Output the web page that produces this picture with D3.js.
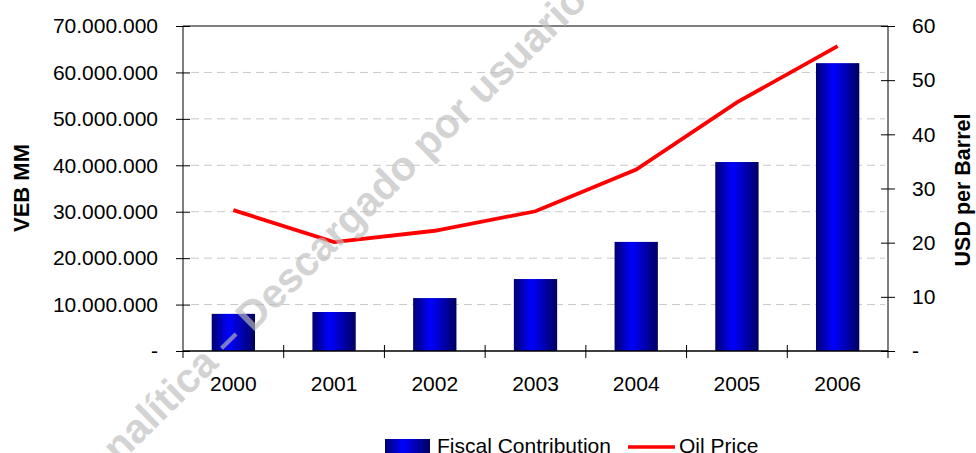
<!DOCTYPE html>
<html>
<head>
<meta charset="utf-8">
<script src="https://cdn.jsdelivr.net/npm/d3@7"></script>
<style>
  body { margin: 0; background: #fff; }
  svg { display: block; font-family: "Liberation Sans", Arial, sans-serif; }
</style>
</head>
<body>
<svg id="chart" width="976" height="453"></svg>
<script>
const years = ["2000", "2001", "2002", "2003", "2004", "2005", "2006"];
const fiscal = [8000000, 8400000, 11400000, 15500000, 23500000, 40700000, 62000000];
const oilPrice = [26.0, 20.1, 22.2, 25.8, 33.5, 45.9, 56.3];
const leftTicks = [0, 10000000, 20000000, 30000000, 40000000, 50000000, 60000000, 70000000];
const rightTicks = [0, 10, 20, 30, 40, 50, 60];

const svg = d3.select("#chart");
const plotLeft = 183, plotRight = 888, plotTop = 26, plotBottom = 351;

const x = d3.scaleBand().domain(years).range([plotLeft, plotRight]);
const yL = d3.scaleLinear().domain([0, 70000000]).range([plotBottom, plotTop]);
const yR = d3.scaleLinear().domain([0, 60]).range([plotBottom, plotTop]);

const loc = d3.formatLocale({ decimal: ",", thousands: ".", grouping: [3], currency: ["", ""] });
const fmt = loc.format(",d");

// gradient for bars
const defs = svg.append("defs");
const grad = defs.append("linearGradient").attr("id", "barGrad")
  .attr("x1", "0%").attr("x2", "100%").attr("y1", "0%").attr("y2", "0%");
grad.append("stop").attr("offset", "0%").attr("stop-color", "#000070");
grad.append("stop").attr("offset", "40%").attr("stop-color", "#0000ff");
grad.append("stop").attr("offset", "100%").attr("stop-color", "#000060");

// gridlines
svg.append("g").selectAll("line")
  .data(leftTicks.filter(d => d > 0 && d < 70000000))
  .enter().append("line")
  .attr("x1", plotLeft + 8).attr("x2", plotRight - 3)
  .attr("y1", d => yL(d)).attr("y2", d => yL(d))
  .style("stroke", "#c8c8c8").style("stroke-width", 1)
  .style("stroke-dasharray", "8,5");

// top frame line
svg.append("line")
  .attr("x1", plotLeft).attr("x2", plotRight).attr("y1", plotTop).attr("y2", plotTop)
  .style("stroke", "#000").style("stroke-width", 1);

// bars
const bw = x.bandwidth() * 0.43;
svg.append("g").selectAll("rect")
  .data(fiscal)
  .enter().append("rect")
  .attr("x", (d, i) => x(years[i]) + x.bandwidth() / 2 - bw / 2)
  .attr("y", d => yL(d))
  .attr("width", bw)
  .attr("height", d => plotBottom - yL(d))
  .style("fill", "url(#barGrad)");

// left axis
const gL = svg.append("g").attr("transform", `translate(${plotLeft},0)`)
  .call(d3.axisLeft(yL).tickValues(leftTicks).tickSize(7).tickSizeOuter(0).tickPadding(18)
    .tickFormat(d => d === 0 ? "-" : fmt(d)));
gL.selectAll(".tick line").attr("x2", -7).attr("x1", 7);
gL.select(".domain").attr("d", `M0,${plotTop}V${plotBottom + 7}`);
gL.selectAll("text").style("font-size", "21px").style("fill", "#000");

// right axis
const gR = svg.append("g").attr("transform", `translate(${plotRight},0)`)
  .call(d3.axisRight(yR).tickValues(rightTicks).tickSize(7).tickSizeOuter(0).tickPadding(17)
    .tickFormat(d => d === 0 ? "-" : d));
gR.selectAll(".tick line").attr("x1", -7).attr("x2", 7);
gR.select(".domain").attr("d", `M0,${plotTop}V${plotBottom + 7}`);
gR.selectAll("text").style("font-size", "21px").style("fill", "#000");

// x axis
svg.append("line")
  .attr("x1", plotLeft).attr("x2", plotRight).attr("y1", plotBottom).attr("y2", plotBottom)
  .style("stroke", "#000").style("stroke-width", 1.5);
svg.append("g").selectAll("line")
  .data(years.slice(1))
  .enter().append("line")
  .attr("x1", d => x(d)).attr("x2", d => x(d))
  .attr("y1", plotBottom - 6).attr("y2", plotBottom + 7)
  .style("stroke", "#000").style("stroke-width", 1);
svg.append("g").selectAll("text")
  .data(years)
  .enter().append("text")
  .attr("x", d => x(d) + x.bandwidth() / 2)
  .attr("y", 391)
  .attr("text-anchor", "middle")
  .style("font-size", "21px")
  .text(d => d);

// oil price line
const line = d3.line()
  .x((d, i) => x(years[i]) + x.bandwidth() / 2)
  .y(d => yR(d));
svg.append("path")
  .datum(oilPrice)
  .attr("d", line)
  .style("fill", "none")
  .style("stroke", "#ff0000")
  .style("stroke-width", 3.8);

// axis titles
svg.append("text")
  .attr("transform", "translate(29,188) rotate(-90)")
  .attr("text-anchor", "middle")
  .style("font-size", "22px").style("font-weight", "bold")
  .text("VEB MM");
svg.append("text")
  .attr("transform", "translate(970,190) rotate(-90)")
  .attr("text-anchor", "middle")
  .style("font-size", "21.5px").style("font-weight", "bold")
  .text("USD per Barrel");

// legend
const lg = svg.append("g");
lg.append("rect").attr("x", 385).attr("y", 439).attr("width", 45).attr("height", 20)
  .style("fill", "url(#barGrad)");
lg.append("text").attr("x", 437).attr("y", 453).style("font-size", "21px").text("Fiscal Contribution");
lg.append("line").attr("x1", 628).attr("x2", 675).attr("y1", 447).attr("y2", 447)
  .style("stroke", "#ff0000").style("stroke-width", 3.5);
lg.append("text").attr("x", 679).attr("y", 453).style("font-size", "21px").text("Oil Price");

// watermark
svg.append("text")
  .attr("transform", "translate(103,480) rotate(-44.5)")
  .style("font-size", "41px").style("font-weight", "bold")
  .style("fill", "#bdbdbd").style("opacity", 0.65)
  .text("analítica – Descargado por usuario");
</script>
</body>
</html>
